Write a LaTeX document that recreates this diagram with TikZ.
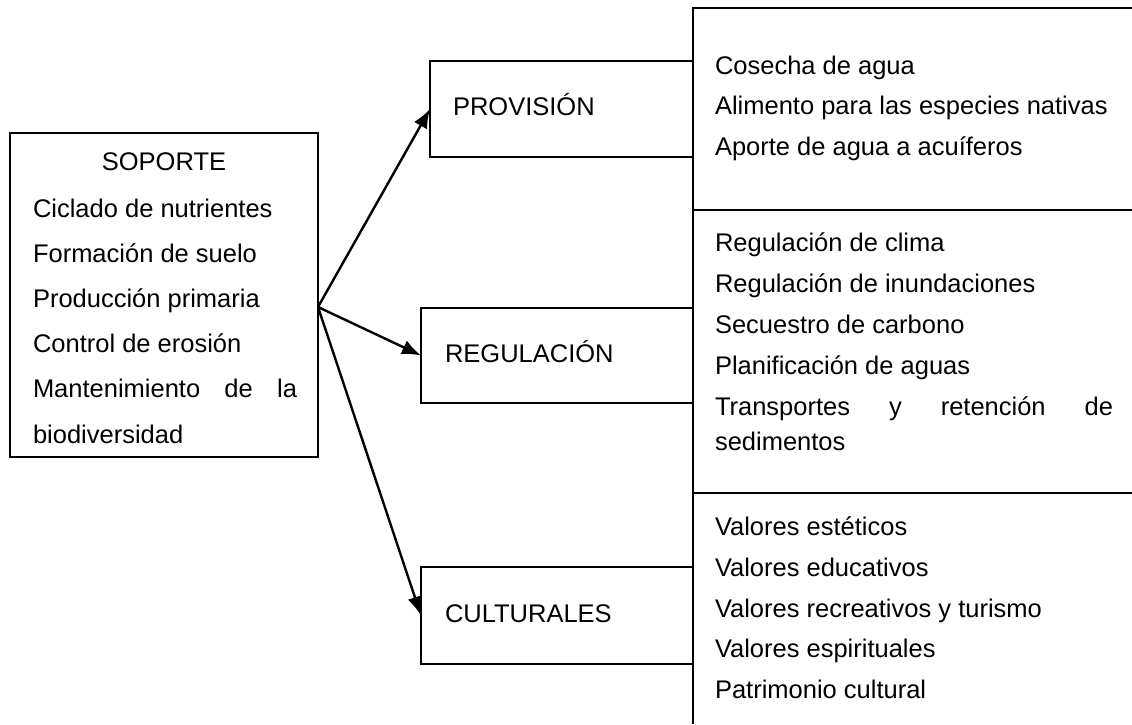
\documentclass[tikz,border=0pt]{standalone}
\usepackage{fontspec}
\setmainfont{Liberation Sans}
\usetikzlibrary{arrows.meta}
\begin{document}
\begin{tikzpicture}[x=1pt,y=-1pt,
  box/.style={draw, line width=2.4pt, inner sep=0pt, outer sep=0pt},
  area/.style={inner sep=0pt, outer sep=0pt},
  txt/.style={anchor=base west, inner sep=0pt, outer sep=0pt, font=\fontsize{25.5}{30}\selectfont},
  edge/.style={line width=2.4pt},
  arr/.style={line width=2.4pt, -{Latex[length=19pt,width=15pt]}}]
\useasboundingbox (0,0) rectangle (1132,724);
\fill[white] (0,0) rectangle (1132,724);

% SOPORTE box
\node[box, minimum width=308pt, minimum height=324pt] (sop) at (164,295) {};
\node[txt, anchor=base] (soptitle) at (164,170) {SOPORTE};
\node[txt] (s1) at (33,217) {Ciclado de nutrientes};
\node[txt] (s2) at (33,262) {Formación de suelo};
\node[txt] (s3) at (33,307) {Producción primaria};
\node[txt] (s4) at (33,352) {Control de erosión};
\node[txt] (s5) at (33,397) {\makebox[264pt][s]{Mantenimiento\hfill de\hfill la}};
\node[txt] (s6) at (33,443) {biodiversidad};

% middle boxes
\node[box, minimum width=263pt, minimum height=96pt] (prov) at (561.5,109) {};
\node[txt] (provl) at (453,115) {PROVISIÓN};
\node[box, minimum width=272pt, minimum height=95pt] (reg) at (557,355.5) {};
\node[txt] (regl) at (445,362) {REGULACIÓN};
\node[box, minimum width=272pt, minimum height=97pt] (cult) at (557,615.5) {};
\node[txt] (cultl) at (445,622) {CULTURALES};

% right boxes (open on the right and at the bottom)
\node[area, minimum width=439pt, minimum height=202pt] (rtop) at (912.5,109) {};
\node[area, minimum width=439pt, minimum height=283pt] (rmid) at (912.5,351.5) {};
\node[area, minimum width=439pt, minimum height=231pt] (rbot) at (912.5,608.5) {};
\draw[edge] (rtop.north east) -- (rtop.north west) -- (rbot.south west);
\draw[edge] (rmid.north west) -- (rmid.north east);
\draw[edge] (rbot.north west) -- (rbot.north east);

\node[txt] (p1) at (715,74) {Cosecha de agua};
\node[txt] (p2) at (715,114) {Alimento para las especies nativas};
\node[txt] (p3) at (715,155) {Aporte de agua a acuíferos};

\node[txt] (r1) at (715,251) {Regulación de clima};
\node[txt] (r2) at (715,292) {Regulación de inundaciones};
\node[txt] (r3) at (715,333) {Secuestro de carbono};
\node[txt] (r4) at (715,374) {Planificación de aguas};
\node[txt] (r5) at (715,415) {\makebox[398pt][s]{Transportes\hfill y\hfill retención\hfill de}};
\node[txt] (r6) at (715,450) {sedimentos};

\node[txt] (c1) at (715,535) {Valores estéticos};
\node[txt] (c2) at (715,576) {Valores educativos};
\node[txt] (c3) at (715,617) {Valores recreativos y turismo};
\node[txt] (c4) at (715,657) {Valores espirituales};
\node[txt] (c5) at (715,698) {Patrimonio cultural};

% arrows
\coordinate (src) at (sop.east |- 0,307);
\draw[arr] (src) -- (prov.west);
\draw[arr] (src) -- (reg.west);
\draw[arr] (src) -- (cult.west);
\end{tikzpicture}
\end{document}
